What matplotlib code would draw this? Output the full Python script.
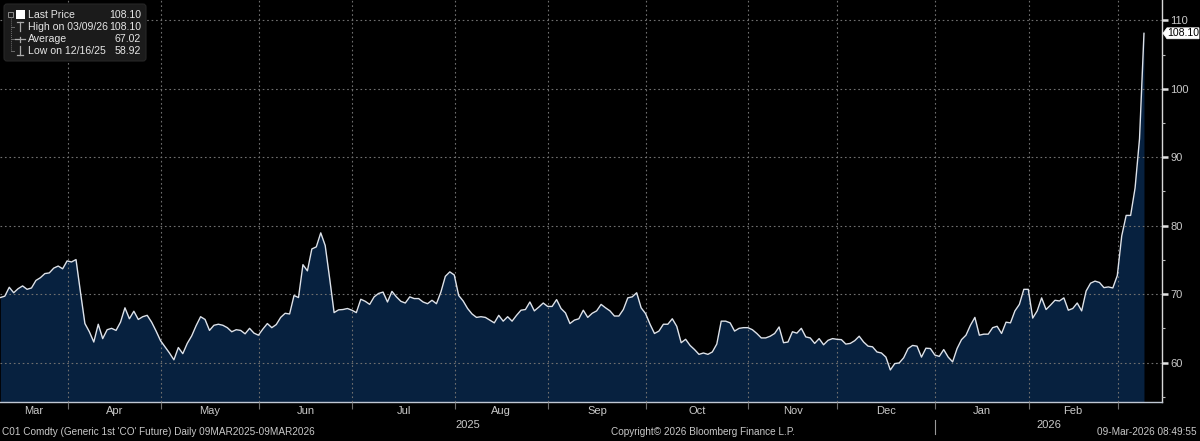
import numpy as np
import pandas as pd
import matplotlib
matplotlib.use("Agg")
import matplotlib.pyplot as plt
from matplotlib.patches import FancyBboxPatch, Rectangle, Polygon

# ICE Brent front month, daily closes 09MAR2025 - 09MAR2026
holidays = ["2025-04-18", "2025-12-25", "2026-01-01"]
dates = pd.bdate_range("2025-03-10", "2026-03-09")
dates = dates[~dates.isin(pd.to_datetime(holidays))]

prices = [
    69.5, 69.7, 71.0, 70.2, 70.8, 71.2, 70.7, 70.9, 72.0, 72.4,
    73.0, 73.1, 73.8, 74.1, 73.7, 74.85, 74.7, 75.05, 70.3, 65.7,
    64.5, 63.0, 65.6, 63.5, 64.8, 65.0, 64.7, 65.9, 68.0, 66.4,
    67.5, 66.3, 66.7, 66.9, 65.9, 64.6, 63.2, 62.3, 61.4, 60.4,
    62.2, 61.3, 62.8, 63.9, 65.4, 66.7, 66.3, 64.7, 65.45, 65.6,
    65.45, 65.1, 64.5, 64.8, 64.7, 64.2, 65.0, 64.3, 64.0, 64.9,
    65.7, 65.1, 65.55, 66.6, 67.2, 67.1, 69.8, 69.5, 74.3, 73.4,
    76.6, 76.9, 78.95, 77.1, 72.3, 67.3, 67.7, 67.75, 67.9, 67.65,
    67.3, 69.25, 68.95, 68.5, 69.6, 70.1, 70.3, 68.85, 70.4, 69.6,
    68.95, 68.7, 69.6, 69.35, 69.35, 68.85, 68.6, 69.1, 68.6, 70.3,
    72.6, 73.25, 72.8, 69.8, 69.0, 67.9, 67.1, 66.6, 66.7, 66.6,
    66.2, 65.8, 66.9, 66.05, 66.7, 66.05, 66.9, 67.65, 67.75, 68.85,
    67.55, 68.1, 68.7, 68.2, 68.2, 69.2, 67.9, 67.25, 65.7, 66.2,
    66.4, 67.65, 66.6, 67.2, 67.55, 68.5, 68.0, 67.55, 66.8, 66.8,
    67.75, 69.45, 69.6, 70.2, 68.0, 67.15, 65.6, 64.25, 64.6, 65.6,
    65.6, 66.4, 65.3, 62.9, 63.4, 62.5, 61.9, 61.2, 61.4, 61.2,
    61.55, 62.7, 66.05, 66.05, 65.8, 64.6, 65.0, 65.1, 65.1, 64.8,
    64.25, 63.6, 63.6, 63.85, 64.25, 65.2, 62.9, 63.0, 64.5, 64.3,
    65.0, 63.75, 63.6, 62.8, 63.5, 62.6, 63.25, 63.5, 63.4, 63.35,
    62.7, 62.8, 63.2, 63.85, 63.0, 62.4, 62.3, 61.55, 61.4, 60.8,
    58.92, 59.85, 59.95, 60.7, 62.05, 62.5, 62.4, 60.8, 62.1, 62.05,
    61.1, 60.9, 61.9, 60.8, 60.1, 62.05, 63.35, 64.0, 65.45, 66.6,
    64.0, 64.15, 64.15, 65.1, 65.3, 64.25, 65.9, 65.8, 67.55, 68.5,
    70.7, 70.7, 66.5, 67.55, 69.45, 67.75, 68.4, 69.1, 69.0, 69.45,
    67.65, 67.9, 68.7, 67.55, 70.45, 71.6, 71.9, 71.7, 70.95, 71.05,
    70.9, 72.7, 78.5, 81.5, 81.5, 85.5, 92.7, 108.10,
]

legend_labels = ["Last Price", "High on 03/09/26", "Average", "Low on 12/16/25"]
legend_values = ["108.10", "108.10", "67.02", "58.92"]
y_ticks = [60, 70, 80, 90, 100, 110]
y_minor = [55, 65, 75, 85, 95, 105]
footer_left = "C01 Comdty (Generic 1st 'CO' Future) Daily 09MAR2025-09MAR2026"
footer_mid = "Copyright\u00a9 2026 Bloomberg Finance L.P."
footer_right = "09-Mar-2026 08:49:55"

BG = "#000000"
FILL = "#07213f"
LINE = "#dde2ea"
GRID = "#707070"
TXT = "#c9c9c9"
FONT = ["Liberation Sans", "DejaVu Sans"]

W, H = 1200, 441
fig = plt.figure(figsize=(W / 100, H / 100), dpi=100, facecolor=BG)
ax = fig.add_axes([0, 1 - 402 / H, 1162 / W, 402 / H], facecolor=BG)

x = np.arange(len(prices))
ymin, ymax = 54.24, 112.97
xmin, xmax = -0.08, 261.05

ax.fill_between(x, ymin, prices, color=FILL, lw=0, zorder=1)
ax.plot(x, prices, color=LINE, lw=1.0, zorder=4)
ax.set_xlim(xmin, xmax)
ax.set_ylim(ymin, ymax)

# month boundaries (drawn just before the first trading day of each month)
ser = pd.Series(np.arange(len(dates)), index=dates)
firsts = ser.groupby([dates.year, dates.month]).first()
names = [pd.Timestamp(year=k[0], month=k[1], day=1).strftime("%b") for k in firsts.index]
bounds = [v - 0.9 for v in firsts.values[1:]]

ax.set_xticks(bounds)
ax.set_xticklabels([])
edges = [xmin] + bounds + [xmax]
mids = [(edges[k] + edges[k + 1]) / 2 for k in range(len(names) - 1)]
ax.set_xticks(mids, minor=True)
ax.set_xticklabels(names[:-1], minor=True, color=TXT, fontsize=8, family=FONT)
ax.tick_params(axis="x", which="major", length=5, width=0.8, color=GRID, direction="out")
ax.tick_params(axis="x", which="minor", length=0, pad=3)

ax.yaxis.tick_right()
ax.set_yticks(y_ticks)
ax.set_yticks(y_minor, minor=True)
ax.set_yticklabels([str(t) for t in y_ticks], color=TXT, fontsize=8, family=FONT)
ax.tick_params(axis="y", which="major", length=4, width=1.8, color="#e0e0e0", pad=2)
ax.tick_params(axis="y", which="minor", length=2.5, width=0.8, color="#bbbbbb")

ax.grid(True, which="major", color=GRID, lw=0.8, linestyle=(0, (1.5, 2.5)))
ax.set_axisbelow(False)
for s in ["top", "left"]:
    ax.spines[s].set_visible(False)
ax.spines["right"].set_color("#d8d8d8")
ax.spines["bottom"].set_color("#c0c8d4")
ax.spines["right"].set_linewidth(1.0)
ax.spines["bottom"].set_linewidth(1.0)

# year labels below the months
jan_idx = names.index("Jan")
jan_pos = bounds[jan_idx - 1]
ax.text((xmin + jan_pos) / 2, -0.045, "2025", transform=ax.get_xaxis_transform(),
        ha="center", va="top", color=TXT, fontsize=8, family=FONT)
ax.text((jan_pos + xmax) / 2, -0.045, "2026", transform=ax.get_xaxis_transform(),
        ha="center", va="top", color=TXT, fontsize=8, family=FONT)
ax.plot([jan_pos, jan_pos], [-0.045, -0.08], transform=ax.get_xaxis_transform(),
        color="#9a9a9a", lw=0.8, clip_on=False)

# overlay in pixel coordinates for legend, price tag and footer
ov = fig.add_axes([0, 0, 1, 1], facecolor="none")
ov.set_xlim(0, W)
ov.set_ylim(H, 0)
ov.axis("off")

ov.add_patch(FancyBboxPatch((4, 4), 142, 57, boxstyle="round,pad=0,rounding_size=3",
                            fc="#1b1b1b", ec="#262626", lw=0.8))
rows = [15, 27, 39, 51]
for lab, val, yy in zip(legend_labels, legend_values, rows):
    ov.text(28, yy, lab, color="#e6e6e6", fontsize=7.6, family=FONT, va="center", ha="left")
    ov.text(141, yy, val, color="#e6e6e6", fontsize=7.6, family=FONT, va="center", ha="right")
ov.add_patch(Rectangle((8, 12), 5, 5, fc="none", ec="#8a8a8a", lw=0.7))
ov.add_patch(Rectangle((16, 10), 9, 9, fc="white", ec="none"))
ov.plot([10.5, 10.5], [17, 51], color="#6a6a6a", lw=0.7, linestyle=(0, (1, 1)))
for yy in rows[1:]:
    ov.plot([10.5, 14], [yy, yy], color="#6a6a6a", lw=0.7)
ov.plot([17, 23], [22, 22], color="#aaaaaa", lw=0.9)
ov.plot([20, 20], [22, 31], color="#aaaaaa", lw=0.9)
ov.plot([15, 25], [39, 39], color="#aaaaaa", lw=0.9)
ov.plot([20, 20], [36.5, 41.5], color="#aaaaaa", lw=0.9)
ov.plot([20, 20], [46, 55], color="#aaaaaa", lw=0.9)
ov.plot([17, 23], [55, 55], color="#aaaaaa", lw=0.9)

# last price tag on the right axis
last_y = 362.3 - (prices[-1] - 60) * 6.84
ov.add_patch(Polygon([(1163, last_y), (1167, last_y - 5.5), (1199, last_y - 5.5),
                      (1199, last_y + 5.5), (1167, last_y + 5.5)], closed=True,
                     fc="white", ec="white", lw=0.5))
ov.text(1183, last_y, f"{prices[-1]:.2f}", color="black", fontsize=7.6, family=FONT,
        ha="center", va="center")

ov.text(2, 432, footer_left, color=TXT, fontsize=7.2, family=FONT, va="center", ha="left")
ov.text(611, 432, footer_mid, color=TXT, fontsize=7.2, family=FONT, va="center", ha="left")
ov.text(1197, 432, footer_right, color=TXT, fontsize=7.2, family=FONT, va="center", ha="right")

fig.savefig("out.png", dpi=100, facecolor=BG)
